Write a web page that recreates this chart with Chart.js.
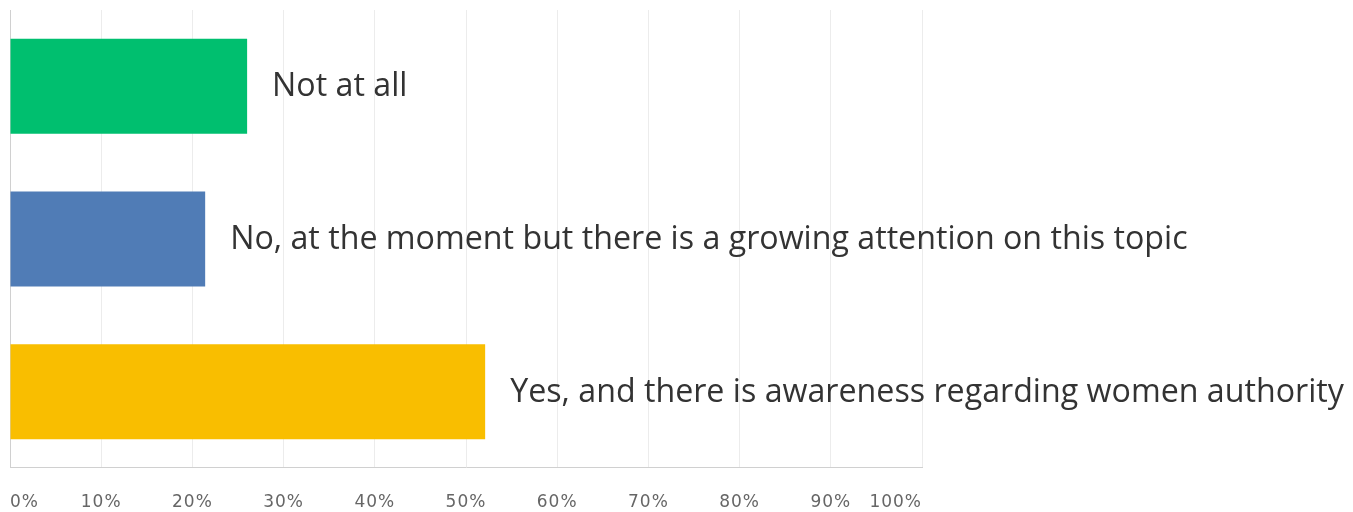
<!DOCTYPE html>
<html>
<head>
<meta charset="utf-8">
<script src="https://cdn.jsdelivr.net/npm/chart.js@4.4.1/dist/chart.umd.min.js"></script>
<style>
  html, body { margin: 0; padding: 0; background: #ffffff; }
  #wrap { position: relative; width: 1353px; height: 512px; }
</style>
</head>
<body>
<div id="wrap"><canvas id="chart"></canvas></div>
<script>
// Survey answers and the share of respondents (%) for each one
const categories = [
  'Not at all',
  'No, at the moment but there is a growing attention on this topic',
  'Yes, and there is awareness regarding women authority'
];
const shares = [26.0, 21.4, 52.1];
const barColors = ['#00BF6F', '#507CB6', '#F9BE00'];
const tickValues = [0, 10, 20, 30, 40, 50, 60, 70, 80, 90, 100];

// Slightly spaced-out percentage labels on the axis
const tickSpacing = {
  id: 'tickSpacing',
  beforeDraw(chart) { chart.ctx.letterSpacing = '1px'; },
  beforeDatasetsDraw(chart) { chart.ctx.letterSpacing = '0px'; },
  afterDraw(chart) { chart.ctx.letterSpacing = '0px'; }
};

// Writes each answer just past the end of its bar
const answerLabels = {
  id: 'answerLabels',
  afterDatasetsDraw(chart) {
    const { ctx } = chart;
    const meta = chart.getDatasetMeta(0);
    ctx.save();
    ctx.letterSpacing = '0px';
    ctx.font = '32.2px "Open Sans", sans-serif';
    ctx.fillStyle = '#333333';
    ctx.textAlign = 'left';
    ctx.textBaseline = 'middle';
    meta.data.forEach((bar, i) => {
      ctx.fillText(chart.data.labels[i], bar.x + 25, bar.y + 1);
    });
    ctx.restore();
  }
};

new Chart(document.getElementById('chart'), {
  type: 'bar',
  data: {
    labels: categories,
    datasets: [{
      data: shares,
      backgroundColor: barColors,
      borderWidth: 0,
      categoryPercentage: 0.622,
      barPercentage: 1
    }]
  },
  options: {
    indexAxis: 'y',
    responsive: true,
    maintainAspectRatio: false,
    animation: false,
    layout: { padding: { top: 10, left: 10, right: 431, bottom: 0 } },
    plugins: {
      legend: { display: false },
      tooltip: { enabled: false }
    },
    scales: {
      x: {
        type: 'linear',
        min: 0,
        max: 100,
        afterBuildTicks(scale) {
          scale.ticks = tickValues.map(v => ({ value: v }));
        },
        ticks: {
          align: 'inner',
          padding: 0,
          color: '#666666',
          font: { family: '"DejaVu Sans", sans-serif', size: 17, lineHeight: 1.06 },
          callback: v => v + '%'
        },
        grid: {
          drawTicks: true,
          tickLength: 26,
          tickColor: 'rgba(0,0,0,0)',
          color: c => (c.index === 0 ? '#d0d0d0' : '#ececec'),
          lineWidth: 1
        },
        border: { display: true, color: '#d0d0d0', width: 1 }
      },
      y: {
        type: 'category',
        display: false
      }
    }
  },
  plugins: [tickSpacing, answerLabels]
});
</script>
</body>
</html>
